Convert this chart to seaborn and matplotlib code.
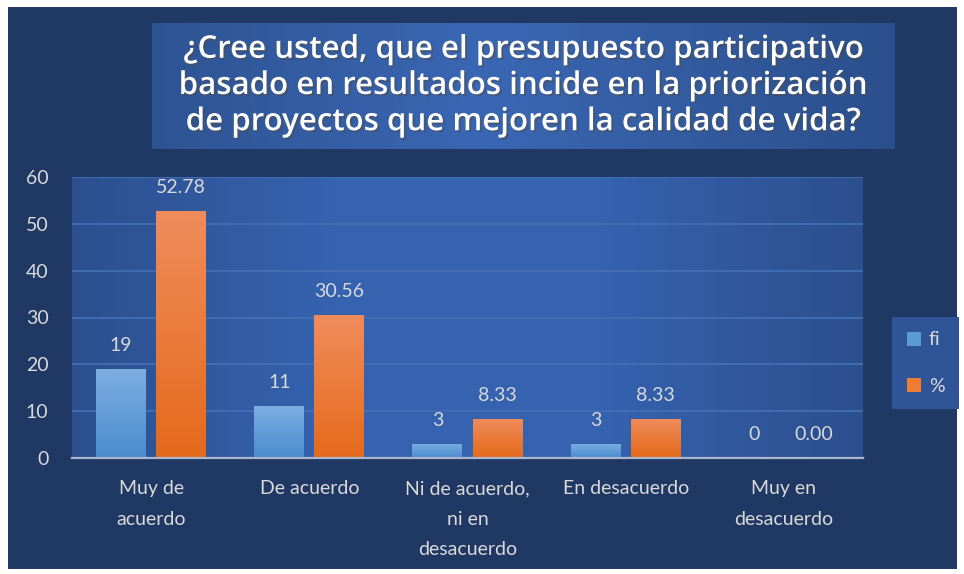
import numpy as np
import pandas as pd
import matplotlib
matplotlib.use("Agg")
import matplotlib.pyplot as plt
import matplotlib.patheffects as pe
from matplotlib.patches import Rectangle
import seaborn as sns

# data
categories = ["Muy de\nacuerdo", "De acuerdo", "Ni de acuerdo,\nni en\ndesacuerdo",
              "En desacuerdo", "Muy en\ndesacuerdo"]
fi = [19, 11, 3, 3, 0]
pct = [52.78, 30.56, 8.33, 8.33, 0.00]
series = ["fi", "%"]

title = ("¿Cree usted, que el presupuesto participativo\n"
         "basado en resultados incide en la priorización\n"
         "de proyectos que mejoren la calidad de vida?")

df = pd.DataFrame({
    "cat": categories * 2,
    "serie": [series[0]] * len(fi) + [series[1]] * len(pct),
    "valor": fi + pct,
})

sns.set_style("white")
plt.rcParams["font.family"] = ["Lato", "DejaVu Sans"]

navy = "#203864"
txt = "#D9D9D9"
blue_bar = "#5B9BD5"
orange_bar = "#ED7D31"

fig = plt.figure(figsize=(9.64, 5.74), dpi=100)
fig.patch.set_facecolor("white")
fig.add_artist(Rectangle((8 / 964, 5 / 574), 949 / 964, 562 / 574,
                         transform=fig.transFigure, facecolor=navy,
                         edgecolor="none", zorder=-10))

# title box with horizontal gradient
tax = fig.add_axes([152 / 964, 1 - 149 / 574, 743 / 964, 126 / 574])
grad = np.linspace(0, 1, 256)
shape = 1 - np.abs(grad - 0.45) * 1.6
tcmap = matplotlib.colors.LinearSegmentedColormap.from_list("t", ["#2B4F8C", "#3A67B4"])
tax.imshow(shape[None, :], aspect="auto", cmap=tcmap, extent=[0, 1, 0, 1])
tax.set_axis_off()
tax.text(0.5, 0.5, title, ha="center", va="center", color="white",
         fontsize=22.5, fontweight="semibold", linespacing=1.27,
         family=["Open Sans", "DejaVu Sans"], transform=tax.transAxes,
         path_effects=[pe.withSimplePatchShadow(offset=(1.5, -1.5), alpha=0.5)])

# main axes
ax = fig.add_axes([72 / 964, 1 - 458 / 574, 791 / 964, 281 / 574])
ax.set_facecolor("#3160A8")
pcmap = matplotlib.colors.LinearSegmentedColormap.from_list(
    "p", ["#2C508F", "#3563B0", "#3563B0", "#2C4F8E"])
ax.imshow(grad[None, :], aspect="auto", cmap=pcmap, extent=[0, 1, 0, 1],
          transform=ax.transAxes, zorder=0)

sns.barplot(data=df, x="cat", y="valor", hue="serie", ax=ax,
            palette=[blue_bar, orange_bar], width=0.76, gap=0.17,
            saturation=1, legend=True, linewidth=0, edgecolor="none", zorder=3)

# vertical gradients on bars
bcmaps = {
    blue_bar: matplotlib.colors.LinearSegmentedColormap.from_list("b", ["#4A8CCF", "#7DAEE0"]),
    orange_bar: matplotlib.colors.LinearSegmentedColormap.from_list("o", ["#E46A1A", "#F08C5C"]),
}
vgrad = np.linspace(0, 1, 256)[:, None]
for i, bar in enumerate(ax.patches):
    h = bar.get_height()
    if h <= 0:
        continue
    key = blue_bar if i < len(fi) else orange_bar
    x0 = bar.get_x()
    w = bar.get_width()
    im = ax.imshow(vgrad, aspect="auto", cmap=bcmaps[key], origin="lower",
                   extent=[x0, x0 + w, 0, h], zorder=4)
    im.set_clip_path(bar)

ax.set_xlim(-0.5, len(categories) - 0.5)
ax.set_ylim(0, 60)
ax.set_yticks(range(0, 61, 10))
ax.yaxis.grid(True, color="#4670B6", lw=1.2, zorder=1)
ax.set_axisbelow(True)

for cont, vals, fmt in zip(ax.containers, [fi, pct], ["{:d}", "{:.2f}"]):
    ax.bar_label(cont, labels=[fmt.format(v) for v in vals], padding=11,
                 color=txt, fontsize=14)

for s in ["top", "left", "right"]:
    ax.spines[s].set_visible(False)
ax.spines["bottom"].set_color("#A9B6CC")
ax.spines["bottom"].set_linewidth(1.6)
ax.spines["bottom"].set_zorder(6)

ax.set_xticks(np.arange(-0.5, len(categories), 1.0), minor=True)
ax.tick_params(axis="x", which="minor", length=6, width=1.6, color="#A9B6CC",
               direction="out")
ax.tick_params(axis="x", which="major", length=0, pad=16, labelsize=14,
               labelcolor=txt)
ax.tick_params(axis="y", length=0, pad=17, labelsize=14, labelcolor=txt)
for lab in ax.get_xticklabels():
    lab.set_linespacing(1.95)
    lab.set_va("top")
ax.set_xlabel("")
ax.set_ylabel("")

handles, labels = ax.get_legend_handles_labels()
ax.legend(handles, labels, loc="center left", bbox_to_anchor=(892 / 964, 1 - 363 / 574),
          bbox_transform=fig.transFigure, frameon=True, facecolor="#2F5598",
          edgecolor="none", framealpha=1, fancybox=False, fontsize=14,
          labelcolor=txt, handlelength=0.75, handleheight=0.75,
          handletextpad=0.4, labelspacing=1.5, borderpad=0.75,
          borderaxespad=0)

fig.savefig("out.png", dpi=100, facecolor=fig.get_facecolor())
